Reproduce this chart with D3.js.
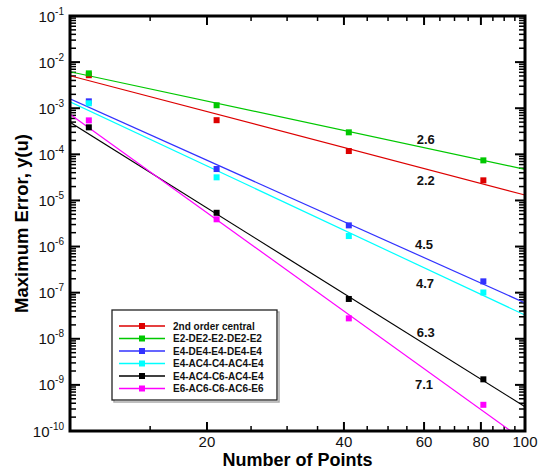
<!DOCTYPE html>
<html><head><meta charset="utf-8">
<script src="https://cdn.jsdelivr.net/npm/d3@7"></script>
<style>
body{margin:0;background:#fff;}
svg{font-family:"Liberation Sans",Arial,sans-serif;}
</style></head>
<body><svg id="c" width="543" height="472"></svg>
<script>
// ---- data ----
const nPoints = [11, 21, 41, 81];
const seriesNames = ["2nd order central","E2-DE2-E2-DE2-E2","E4-DE4-E4-DE4-E4","E4-AC4-C4-AC4-E4","E4-AC4-C6-AC4-E4","E6-AC6-C6-AC6-E6"];
const seriesColors = ["#dd0000","#00c800","#3232ff","#00ffff","#000000","#ff00ff"];
const errRed     = [5.2e-3, 5.5e-4, 1.18e-4, 2.73e-5];
const errGreen   = [5.7e-3, 1.16e-3, 3.0e-4, 7.4e-5];
const errBlue    = [1.41e-3, 4.8e-5, 2.88e-6, 1.76e-7];
const errCyan    = [1.28e-3, 3.17e-5, 1.69e-6, 1.01e-7];
const errBlack   = [3.85e-4, 5.4e-6, 7.3e-8, 1.32e-9];
const errMagenta = [5.45e-4, 3.9e-6, 2.77e-8, 3.7e-10];
const seriesValues = [errRed, errGreen, errBlue, errCyan, errBlack, errMagenta];
// fitted lines: value at N=10 and at N=100
const fitN = [10, 100];
const fitStart = [5.07e-3, 6.19e-3, 1.6e-3, 1.38e-3, 4.94e-4, 7.4e-4];
const fitEnd   = [1.31e-5, 4.73e-5, 6.0e-8, 3.27e-8, 3.35e-10, 6.0e-11];
// order annotations
const orderLabels = ["2.6","2.2","4.5","4.7","6.3","7.1"];
const orderN = [60.5, 60.5, 60, 60.3, 60.5, 60];
const orderErr = [2.11e-4, 2.77e-5, 1.13e-6, 1.62e-7, 1.40e-8, 1.04e-9];
// ticks
const xTickLabels = [20, 40, 60, 80, 100];
const xMinorTicks = [15,25,30,35,45,50,55,65,70,75,85,90,95];
const yExponents = [-1,-2,-3,-4,-5,-6,-7,-8,-9,-10];

// ---- layout ----
const L = 70, R = 525, T = 16, B = 431;
const svg = d3.select("#c");
const x = d3.scaleLog().domain([10,100]).range([L,R]);
const y = d3.scaleLog().domain([1e-10,1e-1]).range([B,T]);

svg.append("defs").append("clipPath").attr("id","clip")
  .append("rect").attr("x",L).attr("y",T).attr("width",R-L).attr("height",B-T);

// y ticks (left & right, inward)
const yMinor = [];
for (let e=-10; e<-1; e++) for (let m=2; m<=9; m++) yMinor.push(m*Math.pow(10,e));
const tickG = svg.append("g").attr("stroke","#000");
yExponents.forEach(e=>{
  const v = Math.pow(10,e);
  tickG.append("line").attr("x1",L).attr("x2",L+10).attr("y1",y(v)).attr("y2",y(v)).attr("stroke-width",2);
  tickG.append("line").attr("x1",R).attr("x2",R-10).attr("y1",y(v)).attr("y2",y(v)).attr("stroke-width",2);
});
yMinor.forEach(v=>{
  tickG.append("line").attr("x1",L).attr("x2",L+6).attr("y1",y(v)).attr("y2",y(v)).attr("stroke-width",1.5);
  tickG.append("line").attr("x1",R).attr("x2",R-6).attr("y1",y(v)).attr("y2",y(v)).attr("stroke-width",1.5);
});
// x ticks (bottom & top, inward)
xTickLabels.forEach(v=>{
  tickG.append("line").attr("x1",x(v)).attr("x2",x(v)).attr("y1",B).attr("y2",B-9).attr("stroke-width",2);
  tickG.append("line").attr("x1",x(v)).attr("x2",x(v)).attr("y1",T).attr("y2",T+9).attr("stroke-width",2);
});
xMinorTicks.forEach(v=>{
  tickG.append("line").attr("x1",x(v)).attr("x2",x(v)).attr("y1",B).attr("y2",B-5).attr("stroke-width",1.5);
  tickG.append("line").attr("x1",x(v)).attr("x2",x(v)).attr("y1",T).attr("y2",T+5).attr("stroke-width",1.5);
});

// tick labels
xTickLabels.forEach(v=>{
  svg.append("text").attr("x",x(v)).attr("y",B+16).attr("text-anchor","middle")
    .attr("font-size",15).attr("fill","#111").text(v);
});
yExponents.forEach(e=>{
  const t = svg.append("text").attr("x",L-6).attr("y",y(Math.pow(10,e))+5.5)
    .attr("text-anchor","end").attr("font-size",15).attr("fill","#111");
  t.append("tspan").text("10");
  t.append("tspan").attr("font-size",10).attr("dy",-7).text(e);
});

// axis titles
svg.append("text").attr("x",(L+R)/2).attr("y",466).attr("text-anchor","middle")
  .attr("font-size",18).attr("font-weight","bold").text("Number of Points");
svg.append("text").attr("transform",`translate(28,${(T+B)/2}) rotate(-90)`)
  .attr("text-anchor","middle").attr("font-size",18.5).attr("font-weight","bold").text("Maximum Error, y(u)");

// fitted lines
const plotG = svg.append("g").attr("clip-path","url(#clip)");
const line = d3.line().x(d=>x(d[0])).y(d=>y(d[1]));
seriesNames.forEach((s,i)=>{
  plotG.append("path").datum([[fitN[0],fitStart[i]],[fitN[1],fitEnd[i]]])
    .attr("d",line).attr("fill","none").attr("stroke",seriesColors[i]).attr("stroke-width",1.2);
});
// markers
seriesNames.forEach((s,i)=>{
  plotG.selectAll(null).data(seriesValues[i]).enter().append("rect")
    .attr("x",(d,j)=>x(nPoints[j])-3).attr("y",d=>y(d)-3)
    .attr("width",6).attr("height",6).attr("fill",seriesColors[i]);
});

// order labels
orderLabels.forEach((t,i)=>{
  svg.append("text").attr("x",x(orderN[i])).attr("y",y(orderErr[i])+5)
    .attr("text-anchor","middle").attr("font-size",13).attr("font-weight","bold").attr("fill","#111").text(t);
});

// frame
svg.append("rect").attr("x",L).attr("y",T).attr("width",R-L).attr("height",B-T)
  .attr("fill","none").attr("stroke","#000").attr("stroke-width",3);

// legend
const lx=112, ly=310, lw=165, lh=90;
svg.append("rect").attr("x",lx+2).attr("y",ly+2).attr("width",lw).attr("height",lh).attr("fill","none").attr("stroke","#aaa").attr("stroke-width",1.5);
svg.append("rect").attr("x",lx).attr("y",ly).attr("width",lw).attr("height",lh).attr("fill","#fff").attr("stroke","#222").attr("stroke-width",1.3);
seriesNames.forEach((s,i)=>{
  const yy = ly+16+i*12.5;
  svg.append("line").attr("x1",119).attr("x2",165).attr("y1",yy).attr("y2",yy)
    .attr("stroke",seriesColors[i]).attr("stroke-width",1.5);
  svg.append("rect").attr("x",139).attr("y",yy-3).attr("width",6).attr("height",6).attr("fill",seriesColors[i]);
  svg.append("text").attr("x",173).attr("y",yy+3.5).attr("font-size",10).attr("font-weight","bold").attr("fill","#111").text(s);
});
</script></body></html>
